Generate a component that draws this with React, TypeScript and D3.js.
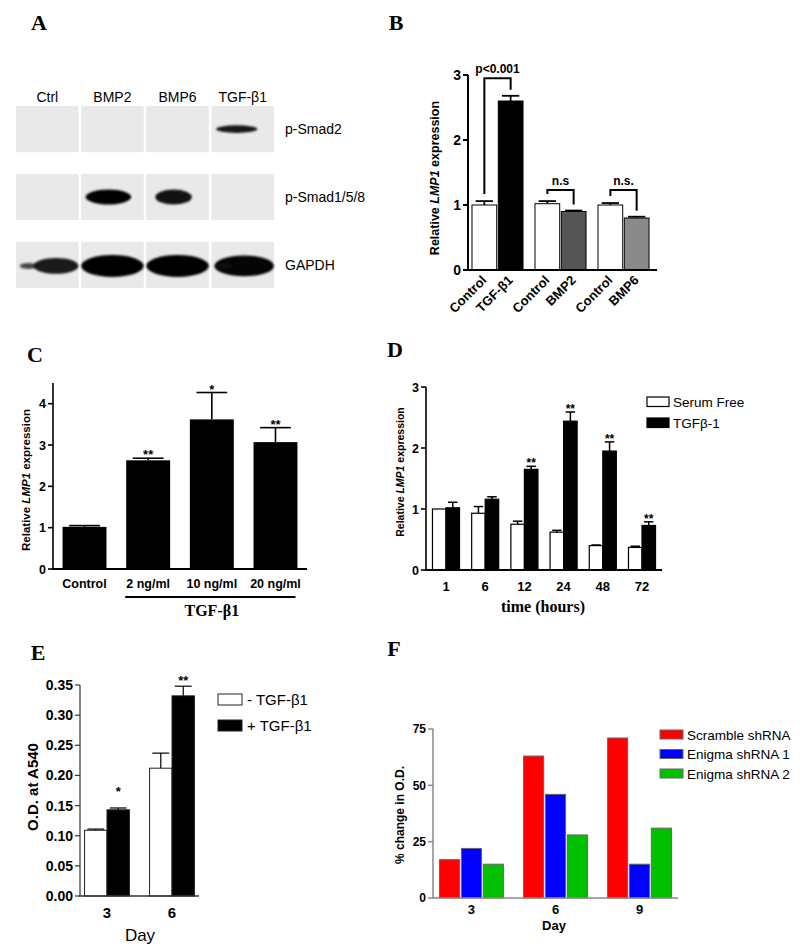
import React from "react";
import * as d3 from "d3";

const SANS = "'Liberation Sans', Arial, Helvetica, sans-serif";
const SERIF = "'Liberation Serif', 'Times New Roman', serif";

// ---------- Panel A (western blot) ----------
const blotLanes = ["Ctrl", "BMP2", "BMP6", "TGF-β1"];
const blotRows = ["p-Smad2", "p-Smad1/5/8", "GAPDH"];
const bandSmad2 = [0, 0, 0, 0.75];
const bandSmad158 = [0, 1, 0.8, 0];
const bandGapdh = [0.72, 1, 1, 0.95];
const blotBands = [bandSmad2, bandSmad158, bandGapdh];

// ---------- Panel B ----------
const bLabels = ["Control", "TGF-β1", "Control", "BMP2", "Control", "BMP6"];
const bValues = [1.0, 2.6, 1.02, 0.9, 1.0, 0.8];
const bErrors = [0.06, 0.08, 0.04, 0.015, 0.03, 0.02];
const bColors = ["#ffffff", "#000000", "#ffffff", "#555555", "#ffffff", "#8a8a8a"];
const bBracketLabels = ["p<0.001", "n.s", "n.s."];
const bBracketLevels = [2.95, 1.23, 1.23];
const bTicks = [0, 1, 2, 3];

// ---------- Panel C ----------
const cLabels = ["Control", "2 ng/ml", "10 ng/ml", "20 ng/ml"];
const cValues = [1.02, 2.63, 3.62, 3.07];
const cErrors = [0.03, 0.05, 0.65, 0.35];
const cStars = ["", "**", "*", "**"];
const cTicks = [0, 1, 2, 3, 4];

// ---------- Panel D ----------
const dTimes = ["1", "6", "12", "24", "48", "72"];
const dSerumFree = [1.0, 0.93, 0.75, 0.62, 0.4, 0.37];
const dSerumFreeErr = [0, 0.11, 0.05, 0.03, 0.01, 0.02];
const dTgf = [1.02, 1.16, 1.65, 2.44, 1.95, 0.73];
const dTgfErr = [0.09, 0.04, 0.05, 0.15, 0.15, 0.06];
const dStars = ["", "", "**", "**", "**", "**"];
const dSeries = ["Serum Free", "TGFβ-1"];
const dTicks = [0, 1, 2, 3];

// ---------- Panel E ----------
const eDays = ["3", "6"];
const eMinus = [0.109, 0.212];
const eMinusErr = [0.002, 0.025];
const ePlus = [0.143, 0.332];
const ePlusErr = [0.003, 0.016];
const eStars = ["*", "**"];
const eSeries = ["- TGF-β1", "+ TGF-β1"];
const eTicks = [0, 0.05, 0.1, 0.15, 0.2, 0.25, 0.3, 0.35];

// ---------- Panel F ----------
const fDays = ["3", "6", "9"];
const fSeries = ["Scramble shRNA", "Enigma shRNA 1", "Enigma shRNA 2"];
const fScramble = [17, 63, 71];
const fEnigma1 = [22, 46, 15];
const fEnigma2 = [15, 28, 31];
const fColors = ["#ff0000", "#0000ff", "#00c000"];
const fTicks = [0, 25, 50, 75];

function YAxis({ scale, x, ticks, fmt, fontSize, tickLen = 5, color = "#000", sw = 1.5, gap = 2 }: any) {
  const [y0, y1] = scale.range();
  return (
    <g>
      <line x1={x} x2={x} y1={y0} y2={y1} stroke={color} strokeWidth={sw} />
      {ticks.map((t: number) => (
        <g key={t}>
          <line x1={x - tickLen} x2={x} y1={scale(t)} y2={scale(t)} stroke={color} strokeWidth={sw} />
          <text x={x - tickLen - gap} y={scale(t)} dy="0.36em" textAnchor="end" fontSize={fontSize}
            fontWeight="bold" fontFamily={SANS}>{fmt ? fmt(t) : t}</text>
        </g>
      ))}
    </g>
  );
}

function ErrBar({ cx, y0, y1, capW, sw = 1.5 }: any) {
  if (Math.abs(y0 - y1) < 0.5) return null;
  return (
    <g stroke="#000" strokeWidth={sw}>
      <line x1={cx} x2={cx} y1={y0} y2={y1} />
      <line x1={cx - capW / 2} x2={cx + capW / 2} y1={y1} y2={y1} />
    </g>
  );
}

function YLabel({ x, cy, fontSize, children }: any) {
  return (
    <text transform={`translate(${x},${cy}) rotate(-90)`} textAnchor="middle" fontSize={fontSize}
      fontWeight="bold" fontFamily={SANS} dominantBaseline="middle">{children}</text>
  );
}

function Letter({ x, y, t }: any) {
  return <text x={x} y={y} fontFamily={SERIF} fontWeight="bold" fontSize={22} textAnchor="middle">{t}</text>;
}

function PanelA() {
  const lx = d3.scaleBand<string>().domain(blotLanes).range([16, 274]).paddingInner(0.04);
  const ry = d3.scaleBand<string>().domain(blotRows).range([106, 288]).paddingInner(0.32);
  const rowWidth = [0.83, 0.73, 1.0];
  const rowRy = [3.8, 7.5, 11];
  return (
    <g>
      <Letter x={39} y={30} t="A" />
      <defs>
        <filter id="blur" x="-20%" y="-50%" width="140%" height="200%">
          <feGaussianBlur stdDeviation="1.3" />
        </filter>
      </defs>
      {blotLanes.map((l) => (
        <text key={l} x={lx(l)! + lx.bandwidth() / 2} y={102} textAnchor="middle" fontFamily={SANS} fontSize={14}>{l}</text>
      ))}
      {blotRows.map((r, ri) => (
        <g key={r}>
          {blotLanes.map((l, li) => {
            const s = blotBands[ri][li];
            const bw = lx.bandwidth();
            let cx = lx(l)! + bw / 2 - (ri === 0 ? 6 : ri === 1 ? 4 : 0);
            const cy = ry(r)! + ry.bandwidth() / 2 + (ri === 2 ? 1 : 0);
            let rx = (bw / 2) * rowWidth[ri] * (ri === 2 ? 1 : Math.max(s, 0.8));
            let ryy = rowRy[ri];
            if (ri === 2 && s < 1) {
              // weaker, narrower control band shifted right with a faint tail
              rx = (bw / 2) * s;
              cx = lx(l)! + bw - rx;
              ryy = rowRy[ri] * s;
            }
            return (
              <g key={l}>
                <rect x={lx(l)} y={ry(r)} width={bw} height={ry.bandwidth()} fill="#e9e9e9" />
                {s > 0 && (
                  <ellipse cx={cx} cy={cy} rx={rx} ry={ryy} fill="#050505" fillOpacity={0.6 + 0.4 * s} filter="url(#blur)" />
                )}
                {ri === 2 && s > 0 && s < 1 && (
                  <ellipse cx={lx(l)! + bw * 0.2} cy={cy} rx={bw * 0.14} ry={3} fill="#111" fillOpacity={0.75} filter="url(#blur)" />
                )}
              </g>
            );
          })}
          <text x={285} y={ry(r)! + ry.bandwidth() / 2} dy="0.36em" fontFamily={SANS} fontSize={14}>{r}</text>
        </g>
      ))}
    </g>
  );
}

function PanelB() {
  const y = d3.scaleLinear().domain([0, 3]).range([270, 75]);
  const gx = d3.scaleBand<number>().domain([0, 1, 2]).range([466, 655]).paddingInner(0.19).paddingOuter(0.095);
  const inner = d3.scaleBand<number>().domain([0, 1]).range([0, gx.bandwidth()]).paddingInner(0.06);
  const bx = (i: number) => gx(Math.floor(i / 2))! + inner(i % 2)!;
  const bw = inner.bandwidth();
  const cxs = bValues.map((_, i) => bx(i) + bw / 2);
  return (
    <g>
      <Letter x={396} y={30} t="B" />
      <YLabel x={436} cy={178} fontSize={12.5}>Relative <tspan fontStyle="italic">LMP1</tspan> expression</YLabel>
      {bValues.map((v, i) => (
        <g key={i}>
          <rect x={bx(i)} y={y(v)} width={bw} height={y(0) - y(v)} fill={bColors[i]} stroke="#000" strokeWidth={1} />
          <ErrBar cx={cxs[i]} y0={y(v)} y1={y(v + bErrors[i])} capW={bw * 0.7} sw={1.8} />
          <text transform={`translate(${cxs[i] + 3},${281}) rotate(-45)`} textAnchor="end" fontFamily={SANS}
            fontWeight="bold" fontSize={13}>{bLabels[i]}</text>
        </g>
      ))}
      {bBracketLabels.map((lab, g) => {
        const a = 2 * g, b = 2 * g + 1;
        const top = y(bBracketLevels[g]);
        const la = y(bValues[a] + bErrors[a]) - 7;
        const lb = y(bValues[b] + bErrors[b]) - 6;
        return (
          <g key={g}>
            <path d={`M${cxs[a]},${la}V${top}H${cxs[b]}V${lb}`} fill="none" stroke="#000" strokeWidth={2} />
            <text x={(cxs[a] + cxs[b]) / 2} y={top - 5} textAnchor="middle" fontFamily={SANS} fontWeight="bold" fontSize={12}>{lab}</text>
          </g>
        );
      })}
      <YAxis scale={y} x={468} ticks={bTicks} fontSize={14} tickLen={5} sw={2} />
      <line x1={467} x2={657} y1={y(0)} y2={y(0)} stroke="#000" strokeWidth={2} />
    </g>
  );
}

function PanelC() {
  const y = d3.scaleLinear().domain([0, 4.5]).range([569, 383]);
  const x = d3.scaleBand<string>().domain(cLabels).range([53, 307]).paddingInner(0.31).paddingOuter(0.15);
  const bw = x.bandwidth();
  return (
    <g>
      <Letter x={35} y={362} t="C" />
      <YLabel x={27} cy={480} fontSize={11.5}>Relative <tspan fontStyle="italic">LMP1</tspan> expression</YLabel>
      {cValues.map((v, i) => {
        const cx = x(cLabels[i])! + bw / 2;
        const et = y(v + cErrors[i]);
        return (
          <g key={i}>
            <rect x={x(cLabels[i])} y={y(v)} width={bw} height={y(0) - y(v)} fill="#000" />
            <ErrBar cx={cx} y0={y(v)} y1={et} capW={bw * 0.7} sw={1.6} />
            {cStars[i] && <text x={cx} y={et + 1} textAnchor="middle" fontFamily={SANS} fontWeight="bold" fontSize={13}>{cStars[i]}</text>}
            <text x={cx} y={588} textAnchor="middle" fontFamily={SANS} fontWeight="bold" fontSize={12.5}>{cLabels[i]}</text>
          </g>
        );
      })}
      <YAxis scale={y} x={53} ticks={cTicks} fontSize={12.5} tickLen={5} sw={1.6} />
      <line x1={52} x2={307} y1={y(0)} y2={y(0)} stroke="#000" strokeWidth={2} />
      <line x1={x(cLabels[1])! - 1} x2={x(cLabels[3])! + bw - 2} y1={597} y2={597} stroke="#000" strokeWidth={2} />
      <text x={(x(cLabels[1])! + x(cLabels[3])! + bw) / 2} y={616} textAnchor="middle" fontFamily={SERIF} fontWeight="bold" fontSize={16}>TGF-β1</text>
    </g>
  );
}

function PanelD() {
  const y = d3.scaleLinear().domain([0, 3]).range([570, 387]);
  const gx = d3.scaleBand<string>().domain(dTimes).range([426, 662]).paddingInner(0.31).paddingOuter(0.165);
  const inner = d3.scaleBand<number>().domain([0, 1]).range([0, gx.bandwidth()]);
  const bw = inner.bandwidth();
  const series = [
    { v: dSerumFree, e: dSerumFreeErr, fill: "#fff" },
    { v: dTgf, e: dTgfErr, fill: "#000" },
  ];
  return (
    <g>
      <Letter x={395} y={357} t="D" />
      <YLabel x={401} cy={472} fontSize={10.5}>Relative <tspan fontStyle="italic">LMP1</tspan> expression</YLabel>
      {dTimes.map((t, i) => (
        <g key={t}>
          {series.map((s, k) => {
            const bx = gx(t)! + inner(k)!;
            const et = y(s.v[i] + s.e[i]);
            return (
              <g key={k}>
                <rect x={bx} y={y(s.v[i])} width={bw} height={y(0) - y(s.v[i])} fill={s.fill} stroke="#000" strokeWidth={1.2} />
                <ErrBar cx={bx + bw / 2} y0={y(s.v[i])} y1={et} capW={bw * 0.7} sw={1.5} />
                {k === 1 && dStars[i] && <text x={bx + bw / 2} y={et + 1} textAnchor="middle" fontFamily={SANS} fontWeight="bold" fontSize={12}>{dStars[i]}</text>}
              </g>
            );
          })}
          <text x={gx(t)! + gx.bandwidth() / 2} y={591} textAnchor="middle" fontFamily={SANS} fontWeight="bold" fontSize={13}>{t}</text>
        </g>
      ))}
      <YAxis scale={y} x={426} ticks={dTicks} fontSize={12.5} tickLen={5} sw={1.6} />
      <line x1={425} x2={662} y1={y(0)} y2={y(0)} stroke="#000" strokeWidth={2} />
      <text x={543} y={612} textAnchor="middle" fontFamily={SERIF} fontWeight="bold" fontSize={16}>time (hours)</text>
      {dSeries.map((s, k) => (
        <g key={s}>
          <rect x={647} y={397 + k * 21} width={22} height={9.5} fill={series[k].fill} stroke="#000" strokeWidth={1.2} />
          <text x={673} y={402 + k * 21} dy="0.36em" fontFamily={SANS} fontSize={13.5}>{s}</text>
        </g>
      ))}
    </g>
  );
}

function PanelE() {
  const y = d3.scaleLinear().domain([0, 0.35]).range([896, 685]);
  const gx = d3.scaleBand<string>().domain(eDays).range([80, 199]).paddingInner(0.31).paddingOuter(0.07);
  const inner = d3.scaleBand<number>().domain([0, 1]).range([0, gx.bandwidth()]);
  const bw = inner.bandwidth();
  const series = [
    { v: eMinus, e: eMinusErr, fill: "#fff" },
    { v: ePlus, e: ePlusErr, fill: "#000" },
  ];
  return (
    <g>
      <Letter x={38} y={660} t="E" />
      <YLabel x={34} cy={787} fontSize={15}>O.D. at A540</YLabel>
      {eDays.map((d, i) => (
        <g key={d}>
          {series.map((s, k) => {
            const bx = gx(d)! + inner(k)!;
            const et = y(s.v[i] + s.e[i]);
            return (
              <g key={k}>
                <rect x={bx} y={y(s.v[i])} width={bw} height={y(0) - y(s.v[i])} fill={s.fill} stroke="#222" strokeWidth={1} />
                <ErrBar cx={bx + bw / 2} y0={y(s.v[i])} y1={et} capW={bw * 0.75} sw={1.2} />
                {k === 1 && <text x={bx + bw / 2} y={et - (eStars[i].length === 1 ? 12 : 1)} textAnchor="middle" fontFamily={SANS} fontWeight="bold" fontSize={13}>{eStars[i]}</text>}
              </g>
            );
          })}
          <text x={gx(d)! + gx.bandwidth() / 2} y={918} textAnchor="middle" fontFamily={SANS} fontWeight="bold" fontSize={15}>{d}</text>
        </g>
      ))}
      <YAxis scale={y} x={80} ticks={eTicks} fmt={(t: number) => d3.format(".2f")(t)} fontSize={14} tickLen={5} sw={1.2} color="#333" />
      <line x1={79} x2={199} y1={y(0)} y2={y(0)} stroke="#333" strokeWidth={1.4} />
      <text x={140} y={941} textAnchor="middle" fontFamily={SANS} fontSize={17}>Day</text>
      {eSeries.map((s, k) => (
        <g key={s}>
          <rect x={218} y={694 + k * 26} width={24} height={11} fill={series[k].fill} stroke="#222" strokeWidth={1} />
          <text x={247} y={700 + k * 26} dy="0.36em" fontFamily={SANS} fontSize={15}>{s}</text>
        </g>
      ))}
    </g>
  );
}

function PanelF() {
  const y = d3.scaleLinear().domain([0, 75]).range([898, 729]);
  const gx = d3.scaleBand<string>().domain(fDays).range([433, 678]).paddingInner(0.24).paddingOuter(0.078);
  const inner = d3.scaleBand<number>().domain([0, 1, 2]).range([0, gx.bandwidth()]).paddingInner(0.08);
  const bw = inner.bandwidth();
  const series = [fScramble, fEnigma1, fEnigma2];
  return (
    <g>
      <Letter x={394} y={656} t="F" />
      <YLabel x={401} cy={815} fontSize={12}>% change in O.D.</YLabel>
      {fDays.map((d, i) => (
        <g key={d}>
          {series.map((s, k) => (
            <rect key={k} x={gx(d)! + inner(k)!} y={y(s[i])} width={bw} height={y(0) - y(s[i])} fill={fColors[k]} stroke="#666" strokeWidth={1} />
          ))}
          <text x={gx(d)! + gx.bandwidth() / 2} y={914} textAnchor="middle" fontFamily={SANS} fontWeight="bold" fontSize={13}>{d}</text>
        </g>
      ))}
      <YAxis scale={y} x={433} ticks={fTicks} fontSize={12} tickLen={5} sw={1.5} color="#888" />
      <line x1={432} x2={678} y1={y(0)} y2={y(0)} stroke="#888" strokeWidth={1.5} />
      <text x={554} y={930} textAnchor="middle" fontFamily={SANS} fontWeight="bold" fontSize={13}>Day</text>
      {fSeries.map((s, k) => (
        <g key={s}>
          <rect x={660} y={730 + k * 19.5} width={23} height={9} fill={fColors[k]} stroke="#666" strokeWidth={1} />
          <text x={687} y={735 + k * 19.5} dy="0.36em" fontFamily={SANS} fontSize={13.5}>{s}</text>
        </g>
      ))}
    </g>
  );
}

export default function App() {
  return (
    <div style={{ position: "absolute", left: 0, top: 0 }}>
      <svg width={800} height={952} viewBox="0 0 800 952" style={{ display: "block", background: "#fff" }}>
        <rect width={800} height={952} fill="#fff" />
        <PanelA />
        <PanelB />
        <PanelC />
        <PanelD />
        <PanelE />
        <PanelF />
      </svg>
    </div>
  );
}
